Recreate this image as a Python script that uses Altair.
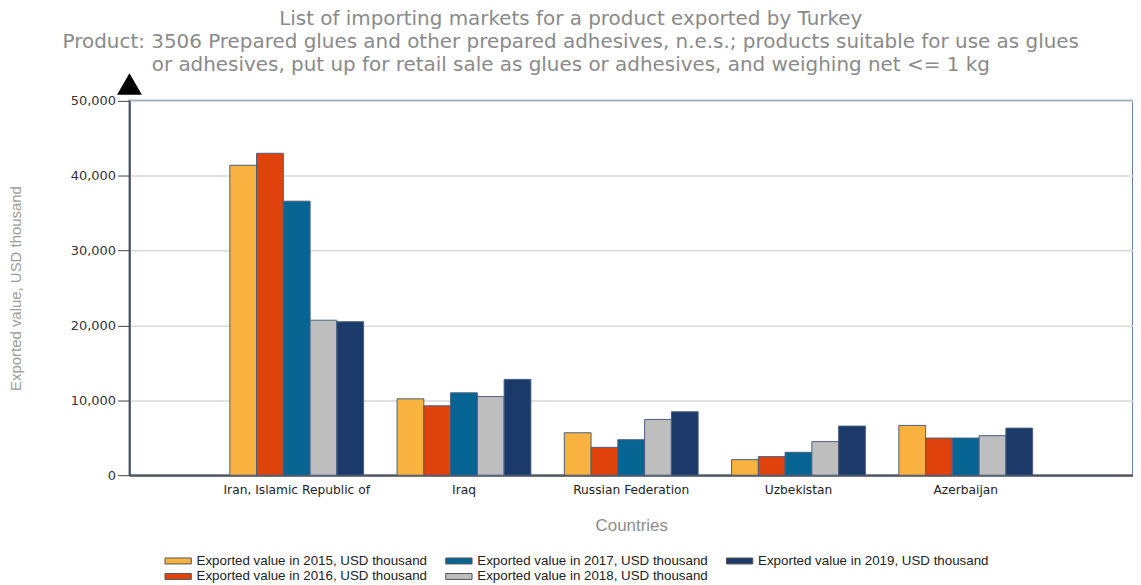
import altair as alt
import pandas as pd

countries = ["Iran, Islamic Republic of", "Iraq", "Russian Federation", "Uzbekistan", "Azerbaijan"]
series = [
    "Exported value in 2015, USD thousand",
    "Exported value in 2016, USD thousand",
    "Exported value in 2017, USD thousand",
    "Exported value in 2018, USD thousand",
    "Exported value in 2019, USD thousand",
]
v2015 = [41400, 10200, 5670, 2080, 6650]
v2016 = [43000, 9270, 3720, 2480, 4960]
v2017 = [36600, 11000, 4740, 3060, 4960]
v2018 = [20700, 10500, 7450, 4480, 5280]
v2019 = [20500, 12800, 8470, 6560, 6290]
colors = ["#F9B23F", "#E0420B", "#066593", "#BEBEBE", "#1B3A69"]

values = [v2015, v2016, v2017, v2018, v2019]
rows = []
for s, vals in zip(series, values):
    for c, v in zip(countries, vals):
        rows.append({"country": c, "series": s, "value": v})
df = pd.DataFrame(rows)

title_text = [
    "List of importing markets for a product exported by Turkey",
    "Product: 3506 Prepared glues and other prepared adhesives, n.e.s.; products suitable for use as glues",
    "or adhesives, put up for retail sale as glues or adhesives, and weighing net <= 1 kg",
]

bars = alt.Chart(df).mark_bar(stroke="#4a5f80", strokeWidth=1).encode(
    x=alt.X(
        "country:N",
        sort=countries,
        scale=alt.Scale(paddingInner=0.2, paddingOuter=0.6),
        axis=alt.Axis(
            title="Countries", labelAngle=0, ticks=False, labelPadding=8,
            labelFont="DejaVu Sans", labelFontSize=12.3, labelColor="#222222",
            titleFont="Liberation Sans", titleFontSize=17, titleFontWeight="normal",
            titleColor="#8c8c8c", titlePadding=22,
            domainColor="#555555", domainWidth=2, grid=False,
        ),
    ),
    xOffset=alt.XOffset("series:N", sort=series, scale=alt.Scale(paddingInner=0, paddingOuter=0)),
    y=alt.Y(
        "value:Q",
        scale=alt.Scale(domain=[0, 50000], nice=False),
        axis=alt.Axis(
            title="Exported value, USD thousand", values=[0, 10000, 20000, 30000, 40000, 50000],
            format=",.0f", tickSize=12, tickColor="#444444", labelPadding=2,
            labelFont="DejaVu Sans", labelFontSize=13, labelColor="#333333",
            titleFont="Liberation Sans", titleFontSize=15, titleFontWeight="normal",
            titleColor="#9a9a9a", titlePadding=47,
            domainColor="#444444", domainWidth=1.5,
            gridColor="#d9d9d9", gridWidth=1.5,
        ),
    ),
    color=alt.Color(
        "series:N",
        scale=alt.Scale(domain=series, range=colors),
        legend=alt.Legend(
            title=None, orient="none", legendX=35, legendY=455, columns=3,
            symbolType="M-1,-0.5H3.4V0.5H-1Z", symbolSize=144,
            symbolStrokeColor="#555555", symbolStrokeWidth=1, symbolOpacity=1,
            labelOffset=19, labelFont="Liberation Sans", labelFontSize=13.4,
            labelColor="#222222", columnPadding=16, rowPadding=1, labelLimit=400,
        ),
    ),
)

arrow = alt.Chart(pd.DataFrame({"a": [0]})).mark_point(
    shape="triangle-up", filled=True, color="black", size=625, opacity=1
).encode(x=alt.value(0), y=alt.value(-17))

chart = alt.layer(bars, arrow).properties(
    width=1008, height=376,
    title=alt.TitleParams(
        text=title_text, anchor="middle", frame="bounds", font="DejaVu Sans",
        fontSize=20, fontWeight="normal", color="#8a8a8a", lineHeight=23, offset=-2,
    ),
    padding={"left": 0, "top": 0, "right": 0, "bottom": 0},
).configure_view(stroke="#6a7fa3", strokeWidth=2)

chart.save("out.html", embed_options={"renderer": "svg", "actions": False})
